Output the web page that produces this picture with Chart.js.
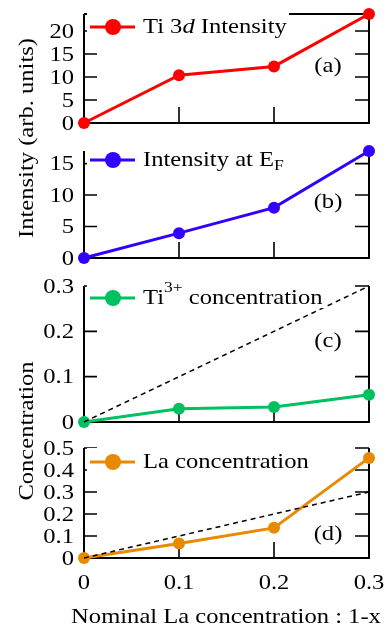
<!DOCTYPE html>
<html>
<head>
<meta charset="utf-8">
<script src="https://cdn.jsdelivr.net/npm/chart.js@4/dist/chart.umd.min.js"></script>
<style>
  html, body { margin: 0; padding: 0; background: #fff; }
  #wrap { position: relative; width: 390px; height: 628px; }
  #wrap canvas { position: absolute; left: 0; top: 0; }
</style>
</head>
<body>
<div id="wrap">
  <canvas id="chartA" width="390" height="628"></canvas>
  <canvas id="chartB" width="390" height="628"></canvas>
  <canvas id="chartC" width="390" height="628"></canvas>
  <canvas id="chartD" width="390" height="628"></canvas>
</div>
<script>
// Data
const xValues = [0, 0.1, 0.2, 0.3];
const xTickLabels = ['0', '0.1', '0.2', '0.3'];

const ti3dIntensity = [0, 10.4, 12.3, 23.7];
const intensityEF = [0, 3.95, 8.0, 17.0];
const ti3Concentration = [0, 0.029, 0.033, 0.06];
const laConcentration = [0, 0.066, 0.137, 0.455];
const nominalLine = [0, 0.1, 0.2, 0.3];

const yTicksA = [0, 5, 10, 15, 20];
const yTicksB = [0, 5, 10, 15];
const yTicksC = [0, 0.1, 0.2, 0.3];
const yTicksD = [0, 0.1, 0.2, 0.3, 0.4, 0.5];

// Text is a bit wider than plain Times in the original
const SX = 1.17;
const FONT = '"Liberation Serif", "Times New Roman", serif';

function drawText(ctx, s, x, y, size, align, rotate, italic) {
    ctx.save();
    ctx.translate(x, y);
    if (rotate) ctx.rotate(-Math.PI / 2);
    ctx.scale(SX, 1);
    ctx.font = (italic ? 'italic ' : '') + size + 'px ' + FONT;
    ctx.textAlign = align;
    ctx.textBaseline = 'middle';
    ctx.fillStyle = '#000';
    ctx.fillText(s, 0, 0);
    ctx.restore();
}

function drawRuns(ctx, runs, x, y) {
    runs.forEach(run => {
        let size = 21, dy = 0;
        if (run.kind === 'sup') { size = 15; dy = -10; }
        if (run.kind === 'sub') { size = 15; dy = 6; }
        ctx.save();
        ctx.font = (run.kind === 'i' ? 'italic ' : '') + size + 'px ' + FONT;
        const w = ctx.measureText(run.t).width * SX;
        ctx.restore();
        drawText(ctx, run.t, x, y + dy, size, 'left', false, run.kind === 'i');
        x += w;
    });
}

// Frame, inward ticks, tick labels, legend box and panel letter
function panelPlugin(p) {
    return {
        id: 'panel' + p.letter,
        beforeDatasetsDraw(chart) {
            const ctx = chart.ctx;
            const a = chart.chartArea;
            const xs = chart.scales.x, ys = chart.scales.y;
            ctx.save();
            ctx.strokeStyle = '#000';
            ctx.lineWidth = 2;
            ctx.beginPath();
            if (p.topLine) {
                ctx.moveTo(a.left, a.top);
                ctx.lineTo(a.right, a.top);
            }
            ctx.moveTo(a.left, a.top);
            ctx.lineTo(a.left, a.bottom);
            ctx.lineTo(a.right, a.bottom);
            ctx.lineTo(a.right, a.top);
            ctx.stroke();

            ctx.lineWidth = 1.6;
            ctx.beginPath();
            p.yTicks.forEach(v => {
                const py = ys.getPixelForValue(v);
                ctx.moveTo(a.left, py); ctx.lineTo(a.left + 13, py);
                ctx.moveTo(a.right, py); ctx.lineTo(a.right - 14, py);
            });
            xValues.forEach(v => {
                const px = xs.getPixelForValue(v);
                ctx.moveTo(px, a.bottom); ctx.lineTo(px, a.bottom - 16);
            });
            ctx.stroke();
            ctx.restore();

            p.yTicks.forEach(v => {
                drawText(ctx, String(v), a.left - 10, ys.getPixelForValue(v) + 1, 21, 'right');
            });
        },
        afterDatasetsDraw(chart) {
            const ctx = chart.ctx;
            const a = chart.chartArea;
            const ly = p.legendY;
            ctx.save();
            ctx.fillStyle = '#fff';
            ctx.fillRect(a.left + 3, ly - 14, p.boxRight - a.left - 3, 24);
            ctx.strokeStyle = p.color;
            ctx.lineWidth = 3;
            ctx.beginPath();
            ctx.moveTo(90, ly); ctx.lineTo(135, ly);
            ctx.stroke();
            ctx.fillStyle = p.color;
            ctx.beginPath();
            ctx.arc(113, ly, 8, 0, Math.PI * 2);
            ctx.fill();
            ctx.restore();
            drawRuns(ctx, p.legend, 143, ly);

            drawText(ctx, '(' + p.letter + ')', 328, p.letterY, 21, 'center');

            if (p.extra) p.extra(chart);
        }
    };
}

function makePanel(id, p) {
    const datasets = [{
        data: xValues.map((x, i) => ({ x: x, y: p.values[i] })),
        borderColor: p.color,
        backgroundColor: p.color,
        borderWidth: 3,
        pointRadius: 6,
        pointBorderWidth: 0,
        pointBackgroundColor: p.color,
        clip: false
    }];
    if (p.dashed) {
        datasets.unshift({
            data: xValues.map((x, i) => ({ x: x, y: nominalLine[i] })),
            borderColor: '#000',
            borderWidth: 1.5,
            borderDash: [5, 4],
            pointRadius: 0,
            clip: false
        });
    }
    new Chart(document.getElementById(id), {
        type: 'line',
        data: { datasets: datasets },
        options: {
            responsive: false,
            animation: false,
            layout: { padding: { left: 84, right: 21, top: p.top, bottom: 628 - p.bottom } },
            scales: {
                x: { type: 'linear', min: 0, max: 0.3, display: false },
                y: { min: 0, max: p.yMax, display: false }
            },
            plugins: { legend: { display: false }, tooltip: { enabled: false } }
        },
        plugins: [panelPlugin(p)]
    });
}

makePanel('chartA', {
    letter: 'a', top: 14, bottom: 123, yMax: 23.7, yTicks: yTicksA,
    values: ti3dIntensity, color: '#ff0000', topLine: true,
    legendY: 27, boxRight: 289, letterY: 66,
    legend: [{ t: 'Ti 3' }, { t: 'd', kind: 'i' }, { t: ' Intensity' }],
    extra(chart) {
        drawText(chart.ctx, 'Intensity (arb. units)', 27, 138, 21, 'center', true);
    }
});

makePanel('chartB', {
    letter: 'b', top: 151, bottom: 258, yMax: 17, yTicks: yTicksB,
    values: intensityEF, color: '#3300ff',
    legendY: 160, boxRight: 300, letterY: 202,
    legend: [{ t: 'Intensity at E' }, { t: 'F', kind: 'sub' }]
});

makePanel('chartC', {
    letter: 'c', top: 286, bottom: 422, yMax: 0.3, yTicks: yTicksC,
    values: ti3Concentration, color: '#00c060', dashed: true,
    legendY: 298, boxRight: 326, letterY: 341,
    legend: [{ t: 'Ti' }, { t: '3+', kind: 'sup' }, { t: ' concentration' }],
    extra(chart) {
        drawText(chart.ctx, 'Concentration', 27, 431, 21, 'center', true);
    }
});

makePanel('chartD', {
    letter: 'd', top: 448, bottom: 558, yMax: 0.5, yTicks: yTicksD,
    values: laConcentration, color: '#e88a00', dashed: true,
    legendY: 462, boxRight: 326, letterY: 534,
    legend: [{ t: 'La concentration' }],
    extra(chart) {
        const xs = chart.scales.x;
        xValues.forEach((v, i) => {
            drawText(chart.ctx, xTickLabels[i], xs.getPixelForValue(v), 583, 21, 'center');
        });
        drawText(chart.ctx, 'Nominal La concentration : 1-x', 226, 617, 21, 'center');
    }
});
</script>
</body>
</html>
